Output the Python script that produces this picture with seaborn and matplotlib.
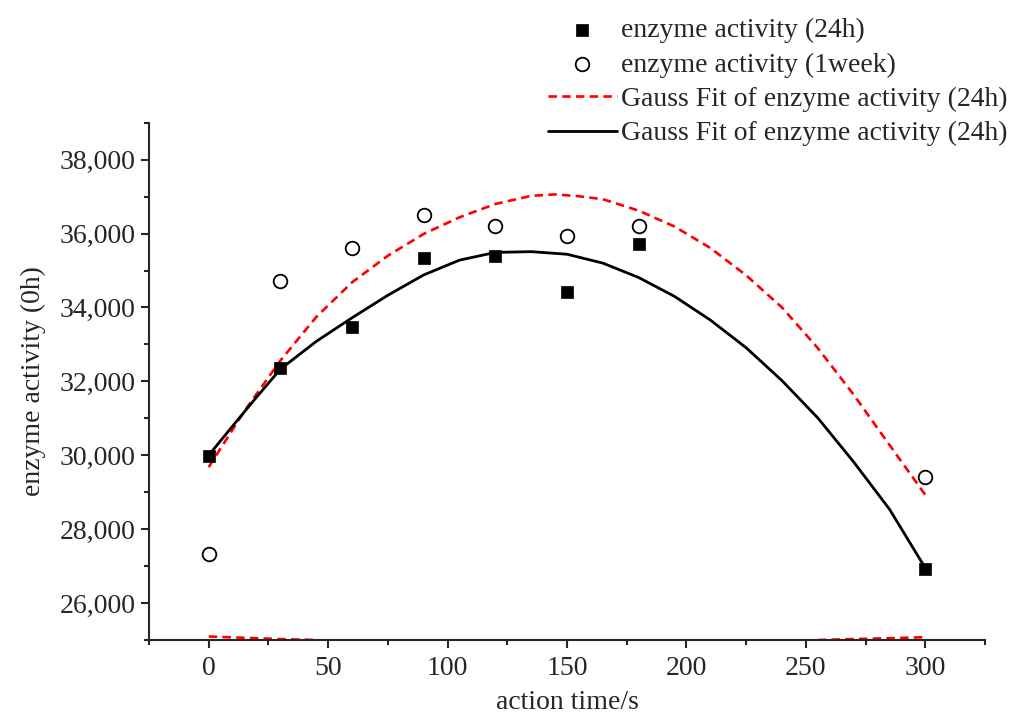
import numpy as np
import pandas as pd
import matplotlib
matplotlib.use("Agg")
import matplotlib.pyplot as plt
from matplotlib.ticker import MultipleLocator, FuncFormatter
import seaborn as sns

# ---- data ----
time_points = [0, 30, 60, 90, 120, 150, 180, 300]
activity_24h = [29970, 32350, 33480, 35340, 35380, 34420, 35720, 26930]
activity_1week = [27340, 34720, 35610, 36510, 36200, 35940, 36200, 29400]

fit_black_x = [0, 10, 20, 30, 45, 60, 75, 90, 105, 120, 135, 150, 165, 180, 195,
               210, 225, 240, 255, 270, 285, 300]
fit_black_y = [30000, 30790, 31570, 32330, 33080, 33720, 34330, 34880, 35280, 35490,
               35510, 35440, 35200, 34810, 34300, 33660, 32910, 32020, 31010, 29820,
               28540, 26950]

fit_red_x = [0, 15, 30, 45, 60, 75, 90, 105, 120, 135, 145, 155, 165, 180, 195, 210,
             225, 240, 255, 270, 285, 300]
fit_red_y = [29680, 31200, 32560, 33740, 34680, 35400, 35990, 36440, 36800, 37020,
             37060, 37010, 36930, 36620, 36190, 35610, 34870, 34000, 32900, 31640,
             30280, 28930]

base_left_x = [0, 15, 30, 45]
base_left_y = [25095, 25060, 25025, 25000]
base_right_x = [255, 270, 285, 300]
base_right_y = [25000, 25025, 25050, 25075]

label_24h = "enzyme activity (24h)"
label_1w = "enzyme activity (1week)"
label_fit = "Gauss Fit of enzyme activity (24h)"

# ---- style ----
sns.set_style("ticks")
plt.rcParams["font.family"] = ["Liberation Serif", "DejaVu Serif"]

FS = 20

fig = plt.figure(figsize=(10.14, 7.16), dpi=100)
ax = fig.add_axes([149 / 1014, 1 - 640 / 716, (985 - 149) / 1014, (640 - 122.7) / 716])

red_dash = (0, (3.2, 2.0))

sns.lineplot(x=fit_red_x, y=fit_red_y, ax=ax, color="#ff0000", linewidth=1.9,
             linestyle=red_dash, label=label_fit, estimator=None, sort=False)
sns.lineplot(x=base_left_x, y=base_left_y, ax=ax, color="#ff0000", linewidth=1.9,
             linestyle=red_dash, label="_nolegend_", estimator=None, sort=False)
sns.lineplot(x=base_right_x, y=base_right_y, ax=ax, color="#ff0000", linewidth=1.9,
             linestyle=red_dash, label="_nolegend_", estimator=None, sort=False)
sns.lineplot(x=fit_black_x, y=fit_black_y, ax=ax, color="black", linewidth=2.0,
             label=label_fit, estimator=None, sort=False)

sns.scatterplot(x=time_points, y=activity_24h, ax=ax, marker="s", s=85,
                color="black", edgecolor="black", linewidth=0.5, label=label_24h,
                zorder=5)
sns.scatterplot(x=time_points, y=activity_1week, ax=ax, marker="o", s=96,
                facecolor="white", edgecolor="black", linewidth=1.3, label=label_1w,
                zorder=5)

ax.set_xlim(-25, 325)
ax.set_ylim(25000, 39000)
ax.xaxis.set_major_locator(MultipleLocator(50))
ax.xaxis.set_minor_locator(MultipleLocator(25))
ax.yaxis.set_major_locator(MultipleLocator(2000))
ax.yaxis.set_minor_locator(MultipleLocator(1000))
ax.set_xticks(np.arange(0, 301, 50))
ax.yaxis.set_major_formatter(FuncFormatter(lambda v, p: f"{int(v):,}"))

sns.despine(ax=ax, top=True, right=True)
for s in ["left", "bottom"]:
    ax.spines[s].set_linewidth(1.5)
ax.tick_params(which="major", direction="out", length=5.5, width=1.5,
               labelsize=FS)
ax.tick_params(axis="x", which="major", pad=6)
ax.tick_params(axis="y", which="major", pad=4)
ax.tick_params(which="minor", direction="out", length=3.6, width=1.5)

ax.set_xlabel("action time/s", fontsize=FS, labelpad=6.5)
ax.set_ylabel("enzyme activity (0h)", fontsize=FS, labelpad=10)

if ax.get_legend():
    ax.get_legend().remove()
handles, labels = ax.get_legend_handles_labels()
order = [labels.index(label_24h), labels.index(label_1w)]
order += [i for i, l in enumerate(labels) if l == label_fit]
fig.legend([handles[i] for i in order], [labels[i] for i in order],
           loc="upper left", bbox_to_anchor=(548 / 1014, 1 - 18 / 716),
           frameon=False, fontsize=FS, handlelength=2.48, handletextpad=0.15,
           labelspacing=0.32, borderpad=0, borderaxespad=0)

fig.savefig("out.png", dpi=100)
